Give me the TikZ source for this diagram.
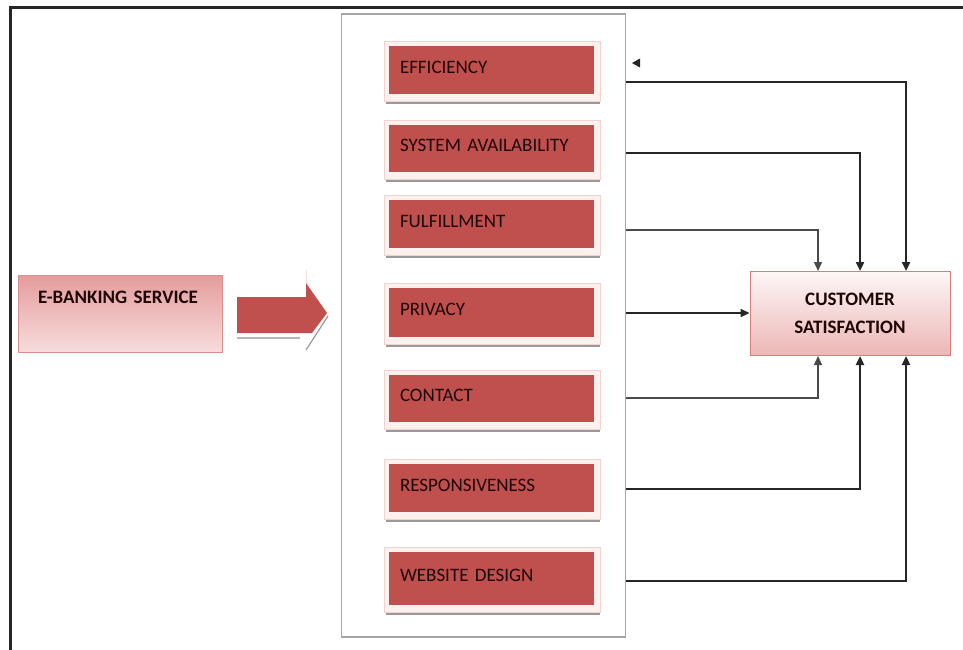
\documentclass[tikz,border=0pt]{standalone}
\usepackage{fontspec}
\setmainfont{Carlito}
\usetikzlibrary{arrows.meta,calc}
\definecolor{boxred}{HTML}{C0504D}
\definecolor{txtdark}{HTML}{1E0606}
\definecolor{linedark}{HTML}{262626}
\definecolor{linethin}{HTML}{4A4A4A}
\definecolor{framegray}{HTML}{A6A6A6}
\definecolor{cardpink}{HTML}{FDF1EF}
\definecolor{cardedge}{HTML}{F3D3CF}
\definecolor{shadowgray}{HTML}{9A9A9A}
\definecolor{ebtop}{HTML}{E59C9C}
\definecolor{ebbot}{HTML}{F7DCDC}
\definecolor{ebedge}{HTML}{D98F8E}
\definecolor{cstop}{HTML}{FEF6F6}
\definecolor{csbot}{HTML}{EDB6B6}
\definecolor{csedge}{HTML}{D77F7E}
\begin{document}
\begin{tikzpicture}[x=1pt,y=-1pt,
  redbox/.style={fill=boxred, minimum width=205pt, minimum height=49pt,
    text width=183pt, inner xsep=11pt, inner ysep=0pt, align=left,
    font=\fontsize{19}{22}\selectfont, text=txtdark, text depth=6pt},
  conn/.style={draw=linedark, line width=2.2pt, -{Triangle[length=9pt,width=8pt]}},
  connthin/.style={draw=linethin, line width=1.4pt, -{Triangle[length=9pt,width=8pt]}},
  ebank/.style={top color=ebtop, bottom color=ebbot, draw=ebedge, line width=0.8pt,
    minimum width=204pt, minimum height=77pt, text width=164pt, inner xsep=20pt,
    inner ysep=0pt, align=left, font=\bfseries\fontsize{19}{22}\selectfont,
    text=txtdark, text depth=32pt},
  cust/.style={top color=cstop, bottom color=csbot, draw=csedge, line width=1pt,
    minimum width=200pt, minimum height=84pt, align=center,
    font=\bfseries\fontsize{19}{28}\selectfont, text=txtdark}
]
\useasboundingbox (0,0) rectangle (963,650);
\fill[white] (0,0) rectangle (963,650);
% outer frame lines
\draw[line width=3pt, linedark] (10.5,650) -- (10.5,7.5) -- (963,7.5);
% inner frame
\node[draw=framegray, line width=1.5pt, minimum width=284pt, minimum height=623pt, inner sep=0pt] (frame) at (483.5,325.5) {};
% cards behind red boxes
\foreach \t/\b in {46/94, 125/172, 200/248, 288/337, 375/422, 464/512, 552/605}{
  \fill[cardpink, draw=cardedge, line width=0.6pt] (384,\t-5) rectangle (600,\b+7);
  \draw[shadowgray, line width=1.6pt] (386,\b+9) -- (600,\b+9);
}
% red boxes
\node[redbox, minimum height=48pt] (eff) at (491.5,70) {EFFICIENCY};
\node[redbox, minimum height=47pt] (sys) at (491.5,148.5) {SYSTEM AVAILABILITY};
\node[redbox, minimum height=48pt] (ful) at (491.5,224) {FULFILLMENT};
\node[redbox, minimum height=49pt] (pri) at (491.5,312.5) {PRIVACY};
\node[redbox, minimum height=47pt] (con) at (491.5,398.5) {CONTACT};
\node[redbox, minimum height=48pt] (res) at (491.5,488) {RESPONSIVENESS};
\node[redbox, minimum height=53pt] (web) at (491.5,578.5) {WEBSITE DESIGN};
% e-banking
\node[ebank] (eb) at (120,313.5) {E-BANKING SERVICE};
% block arrow
\fill[boxred] (237,297) -- (306,297) -- (306,283) -- (327,313) -- (312,333) -- (237,333) -- cycle;
\draw[shadowgray!70, line width=1.2pt] (237,338) -- (300,338);
\draw[shadowgray, line width=1.2pt] (328,316) -- (306,350);
\draw[ebbot, line width=1pt] (306,283) -- (306,270);
% customer satisfaction
\node[cust] (cs) at (850,313.5) {CUSTOMER\\SATISFACTION};
% connector start points on the frame edge
\coordinate (s1) at (625.5,82);
\coordinate (s2) at (625.5,153);
\coordinate (s3) at (625.5,230);
\coordinate (s4) at (625.5,313);
\coordinate (s5) at (625.5,398);
\coordinate (s6) at (625.5,489);
\coordinate (s7) at (625.5,581);
\draw[conn] (s1) -| ([xshift=56pt]cs.north);
\draw[conn] (s2) -| ([xshift=10pt]cs.north);
\draw[connthin] (s3) -| ([xshift=-32pt]cs.north);
\draw[conn] (s4) -- (s4 -| cs.west);
\draw[connthin] (s5) -| ([xshift=-32pt]cs.south);
\draw[conn] (s6) -| ([xshift=10pt]cs.south);
\draw[conn] (s7) -| ([xshift=56pt]cs.south);
% stray arrowhead
\fill[linedark] (632,63) -- (640,58.5) -- (640,67.5) -- cycle;
\end{tikzpicture}
\end{document}
